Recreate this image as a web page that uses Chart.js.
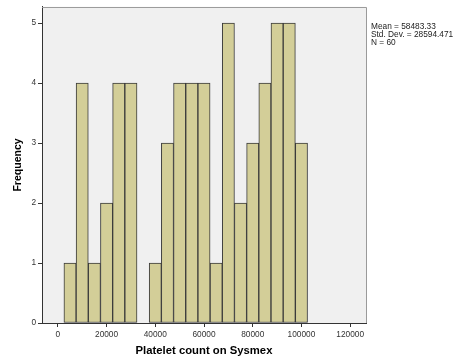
<!DOCTYPE html>
<html>
<head>
<meta charset="utf-8">
<script src="https://cdn.jsdelivr.net/npm/chart.js@4/dist/chart.umd.min.js"></script>
<style>
  html, body { margin: 0; padding: 0; background: #ffffff; }
  #wrap { width: 456px; height: 358px; }
</style>
</head>
<body>
<div id="wrap"><canvas id="hist"></canvas></div>
<script>
/* Histogram data: bin centres (bin width 5000) and frequencies */
const binCentres = [5000, 10000, 15000, 20000, 25000, 30000, 35000, 40000, 45000, 50000,
                    55000, 60000, 65000, 70000, 75000, 80000, 85000, 90000, 95000, 100000];
const frequencies = [1, 4, 1, 2, 4, 4, 0, 1, 3, 4,
                     4, 4, 1, 5, 2, 3, 4, 5, 5, 3];
const xTicks = [0, 20000, 40000, 60000, 80000, 100000, 120000];
const yTicks = [0, 1, 2, 3, 4, 5];
const statsLines = ['Mean = 58483.33', 'Std. Dev. = 28594.471', 'N = 60'];

const FONT = '"Liberation Sans", Arial, sans-serif';

/* Grey plot background and frame, plus the stats box text */
const plotFrame = {
    id: 'plotFrame',
    beforeDraw(chart) {
        const { ctx, chartArea: a } = chart;
        ctx.save();
        ctx.fillStyle = '#f0f0f0';
        ctx.fillRect(a.left, a.top, a.right - a.left, a.bottom - a.top);
        ctx.restore();
    },
    afterDraw(chart) {
        const { ctx, chartArea: a } = chart;
        ctx.save();
        ctx.strokeStyle = '#9a9a9a';
        ctx.lineWidth = 1;
        ctx.beginPath();
        ctx.moveTo(a.left, a.top + 0.5);
        ctx.lineTo(a.right + 0.5, a.top + 0.5);
        ctx.lineTo(a.right + 0.5, a.bottom);
        ctx.stroke();

        ctx.fillStyle = '#222222';
        ctx.font = '8.3px ' + FONT;
        ctx.textBaseline = 'middle';
        statsLines.forEach((line, i) => {
            ctx.fillText(line, a.right + 5, 27 + i * 8);
        });
        ctx.restore();
    }
};

const ctx = document.getElementById('hist');
const histChart = new Chart(ctx, {
    type: 'bar',
    data: {
        datasets: [{
            label: 'Frequency',
            data: binCentres.map((c, i) => ({ x: c, y: frequencies[i] > 0 ? frequencies[i] : null })),
            backgroundColor: '#d3ce98',
            borderColor: '#3a3a3a',
            borderWidth: 1,
            borderSkipped: false,
            barPercentage: 1,
            categoryPercentage: 1
        }]
    },
    options: {
        responsive: true,
        maintainAspectRatio: false,
        animation: false,
        layout: { padding: { top: 6, right: 90, bottom: 0, left: 0 } },
        plugins: {
            legend: { display: false },
            tooltip: { enabled: false }
        },
        scales: {
            x: {
                type: 'linear',
                offset: false,
                min: -6500,
                max: 126500,
                afterBuildTicks: (s) => { s.ticks = xTicks.map(v => ({ value: v })); },
                afterFit: (s) => { s.height = 35; },
                grid: { display: true, offset: false, drawOnChartArea: false, tickLength: 4, color: '#333333' },
                border: { display: true, color: '#333333' },
                ticks: {
                    autoSkip: false,
                    maxRotation: 0,
                    padding: 3,
                    color: '#333333',
                    font: { family: FONT, size: 8.3 },
                    callback: (v) => String(v)
                },
                title: {
                    display: true,
                    text: 'Platelet count on Sysmex',
                    color: '#000000',
                    font: { family: FONT, size: 11.3, weight: 'bold' },
                    padding: { top: 6, bottom: 0 }
                }
            },
            y: {
                min: 0,
                max: 5.27,
                afterBuildTicks: (s) => { s.ticks = yTicks.map(v => ({ value: v })); },
                afterFit: (s) => { s.width = 42; },
                grid: { display: true, drawOnChartArea: false, tickLength: 4, color: '#333333' },
                border: { display: true, color: '#333333' },
                ticks: {
                    padding: 2,
                    color: '#333333',
                    font: { family: FONT, size: 8.3 }
                },
                title: {
                    display: true,
                    text: 'Frequency',
                    color: '#000000',
                    font: { family: FONT, size: 10.5, weight: 'bold' },
                    padding: { top: 12, bottom: 0 }
                }
            }
        }
    },
    plugins: [plotFrame]
});
</script>
</body>
</html>
